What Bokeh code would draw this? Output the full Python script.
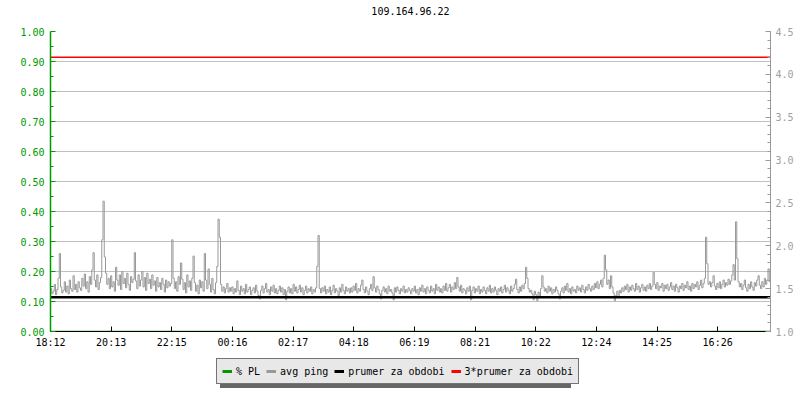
from bokeh.plotting import figure
from bokeh.layouts import column
from bokeh.models import (Range1d, LinearAxis, FixedTicker, PrintfTickFormatter,
                          Legend, LegendItem, Title)
from bokeh.embed import file_html
from bokeh.resources import INLINE

# ---------------- data ----------------
title_text = "109.164.96.22"
time_labels = ["18:12", "20:13", "22:15", "00:16", "02:17", "04:18",
               "06:19", "08:21", "10:22", "12:24", "14:25", "16:26"]
tick_step_min = 121.3          # minutes between time labels
period_min = 1440              # length of the period (minutes)
sample_min = 2.5               # minutes between samples

# average ping (ms), one value every 2.5 minutes
avg_ping = [
    # 18:12 - 19:12
    1.50, 1.44, 1.47, 1.55, 1.43, 1.49, 1.62, 1.91, 1.52, 1.45, 1.48, 1.58,
    1.46, 1.53, 1.44, 1.60, 1.50, 1.47, 1.65, 1.49, 1.55, 1.46, 1.58, 1.51,
    # 19:12 - 20:12
    1.48, 1.62, 1.53, 1.67, 1.50, 1.58, 1.46, 1.64, 1.55, 1.72, 1.92, 1.60,
    1.52, 1.66, 1.49, 1.57, 1.63, 2.07, 2.52, 1.87, 1.68, 1.55, 1.62, 1.50,
    # 20:12 - 21:12
    1.65, 1.52, 1.58, 1.47, 1.75, 1.60, 1.54, 1.66, 1.49, 1.70, 1.56, 1.62,
    1.51, 1.68, 1.55, 1.48, 1.64, 1.57, 1.61, 1.92, 1.59, 1.50, 1.66, 1.53,
    # 21:12 - 22:12
    1.60, 1.70, 1.52, 1.63, 1.48, 1.68, 1.56, 1.61, 1.50, 1.66, 1.54, 1.59,
    1.47, 1.63, 1.52, 1.57, 1.49, 1.62, 1.55, 1.46, 1.60, 1.51, 1.58, 1.53,
    # 22:12 - 23:12
    1.56, 2.07, 1.62, 1.50, 1.58, 1.47, 1.64, 1.55, 1.80, 1.61, 1.49, 1.57,
    1.45, 1.66, 1.52, 1.59, 1.48, 1.62, 1.88, 1.57, 1.47, 1.54, 1.44, 1.60,
    # 23:12 - 00:12
    1.51, 1.58, 1.47, 1.91, 1.60, 1.50, 1.73, 1.55, 1.46, 1.62, 1.49, 1.44,
    1.57, 1.76, 2.31, 2.10, 1.55, 1.47, 1.52, 1.45, 1.50, 1.56, 1.46, 1.51,
    # 00:12 - 01:12
    1.47, 1.52, 1.44, 1.50, 1.46, 1.59, 1.48, 1.43, 1.53, 1.47, 1.50, 1.44,
    1.55, 1.46, 1.49, 1.52, 1.43, 1.48, 1.51, 1.45, 1.54, 1.47, 1.42, 1.38,
    # 01:12 - 02:12
    1.48, 1.53, 1.45, 1.50, 1.56, 1.46, 1.49, 1.43, 1.52, 1.47, 1.54, 1.45,
    1.50, 1.44, 1.48, 1.53, 1.46, 1.51, 1.43, 1.49, 1.37, 1.47, 1.52, 1.45,
    # 02:12 - 03:12
    1.50, 1.44, 1.55, 1.47, 1.52, 1.45, 1.49, 1.54, 1.46, 1.51, 1.43, 1.48,
    1.53, 1.45, 1.50, 1.47, 1.52, 1.44, 1.49, 1.46, 1.51, 1.76, 2.12, 1.50,
    # 03:12 - 04:12
    1.45, 1.51, 1.47, 1.53, 1.44, 1.49, 1.46, 1.52, 1.43, 1.48, 1.54, 1.45,
    1.50, 1.47, 1.42, 1.51, 1.46, 1.55, 1.48, 1.44, 1.52, 1.47, 1.50, 1.45,
    # 04:12 - 05:12
    1.51, 1.46, 1.53, 1.48, 1.56, 1.45, 1.50, 1.47, 1.54, 1.60, 1.49, 1.45,
    1.52, 1.47, 1.43, 1.50, 1.55, 1.48, 1.64, 1.51, 1.46, 1.53, 1.49, 1.44,
    # 05:12 - 06:12
    1.38, 1.48, 1.52, 1.46, 1.50, 1.44, 1.53, 1.47, 1.49, 1.45, 1.37, 1.51,
    1.46, 1.52, 1.48, 1.44, 1.50, 1.47, 1.53, 1.45, 1.49, 1.46, 1.51, 1.48,
    # 06:12 - 07:12
    1.44, 1.50, 1.47, 1.53, 1.45, 1.49, 1.43, 1.51, 1.47, 1.54, 1.46, 1.50,
    1.44, 1.52, 1.48, 1.45, 1.53, 1.47, 1.50, 1.44, 1.55, 1.48, 1.52, 1.46,
    # 07:12 - 08:12
    1.50, 1.45, 1.53, 1.48, 1.56, 1.47, 1.51, 1.55, 1.46, 1.52, 1.49, 1.57,
    1.50, 1.63, 1.52, 1.47, 1.54, 1.45, 1.50, 1.48, 1.44, 1.51, 1.47, 1.53,
    # 08:12 - 09:12
    1.37, 1.48, 1.52, 1.45, 1.50, 1.47, 1.53, 1.44, 1.49, 1.46, 1.52, 1.48,
    1.44, 1.51, 1.47, 1.54, 1.45, 1.50, 1.46, 1.52, 1.48, 1.43, 1.50, 1.47,
    # 09:12 - 10:12
    1.52, 1.45, 1.49, 1.54, 1.46, 1.51, 1.48, 1.44, 1.53, 1.47, 1.50, 1.55,
    1.61, 1.49, 1.45, 1.52, 1.47, 1.54, 1.50, 1.56, 1.75, 1.62, 1.50, 1.46,
    # 10:12 - 11:12
    1.48, 1.44, 1.37, 1.47, 1.43, 1.36, 1.46, 1.41, 1.50, 1.65, 1.52, 1.47,
    1.50, 1.45, 1.53, 1.47, 1.51, 1.44, 1.49, 1.46, 1.52, 1.48, 1.44, 1.38,
    # 11:12 - 12:12
    1.47, 1.51, 1.45, 1.53, 1.48, 1.56, 1.46, 1.50, 1.44, 1.52, 1.47, 1.49,
    1.45, 1.53, 1.48, 1.51, 1.46, 1.54, 1.49, 1.45, 1.52, 1.48, 1.55, 1.50,
    # 12:12 - 13:12
    1.47, 1.53, 1.49, 1.56, 1.51, 1.58, 1.50, 1.55, 1.60, 1.52, 1.62, 1.89,
    1.72, 1.55, 1.60, 1.50, 1.65, 1.52, 1.45, 1.36, 1.42, 1.47, 1.40, 1.48,
    # 13:12 - 14:12
    1.45, 1.51, 1.47, 1.53, 1.49, 1.55, 1.46, 1.52, 1.48, 1.54, 1.50, 1.47,
    1.56, 1.49, 1.53, 1.46, 1.51, 1.55, 1.48, 1.52, 1.47, 1.54, 1.50, 1.56,
    # 14:12 - 15:12
    1.49, 1.53, 1.69, 1.55, 1.50, 1.57, 1.48, 1.53, 1.51, 1.56, 1.47, 1.54,
    1.50, 1.55, 1.48, 1.52, 1.57, 1.49, 1.53, 1.47, 1.55, 1.51, 1.46, 1.53,
    # 15:12 - 16:12
    1.50, 1.56, 1.48, 1.54, 1.51, 1.58, 1.49, 1.53, 1.47, 1.56, 1.50, 1.55,
    1.52, 1.58, 1.49, 1.54, 1.60, 1.51, 1.56, 1.62, 2.10, 1.79, 1.55, 1.58,
    # 16:12 - 17:12
    1.52, 1.57, 1.65, 1.53, 1.49, 1.56, 1.51, 1.58, 1.50, 1.55, 1.60, 1.52,
    1.57, 1.54, 1.61, 1.55, 1.59, 1.66, 1.78, 1.60, 2.28, 1.85, 1.58, 1.52,
    # 17:12 - 18:12
    1.56, 1.49, 1.54, 1.60, 1.51, 1.47, 1.55, 1.50, 1.58, 1.52, 1.48, 1.57,
    1.53, 1.60, 1.65, 1.54, 1.50, 1.58, 1.52, 1.62, 1.55, 1.60, 1.73, 1.58,
    1.52,
]
packet_loss = [0.0] * len(avg_ping)     # % PL stayed at zero
mean_ping = 1.40                        # prumer za obdobi
triple_mean_ping = 4.20                 # 3*prumer za obdobi

left_ticks = [0.0, 0.1, 0.2, 0.3, 0.4, 0.5, 0.6, 0.7, 0.8, 0.9, 1.0]
left_minor = [0.05, 0.15, 0.25, 0.35, 0.45, 0.55, 0.65, 0.75, 0.85, 0.95]
right_ticks = [1.0, 1.5, 2.0, 2.5, 3.0, 3.5, 4.0, 4.5]
right_minor = [round(1.0 + 0.1 * k, 1) for k in range(36)]

legend_labels = ["% PL", "avg ping", "prumer za obdobi", "3*prumer za obdobi"]

# ---------------- style ----------------
FONT = "DejaVu Sans Mono"
GREEN = "#009900"
GRAY = "#999999"

minutes = [sample_min * i for i in range(len(avg_ping))]
x_ticks = [round(i * tick_step_min, 3) for i in range(len(time_labels))]

p = figure(width=800, height=352, output_backend="svg", toolbar_location=None,
           x_range=Range1d(0, period_min), y_range=Range1d(0, 1),
           min_border_left=50, min_border_right=30, min_border_top=31,
           min_border_bottom=21)
p.extra_y_ranges = {"ping": Range1d(1.0, 4.5)}
p.outline_line_color = None
p.background_fill_color = "white"
p.border_fill_color = "white"

# a thin empty spacer title next to the frame, then the real title above it
p.add_layout(Title(text=" ", text_font_size="1px", standoff=6), "above")
p.add_layout(Title(text=title_text, align="center", text_font=FONT,
                   text_font_size="10px", text_font_style="normal",
                   text_color="black", vertical_align="top", standoff=12),
             "above")

# x axis
xa = p.xaxis[0]
xa.ticker = FixedTicker(ticks=x_ticks, minor_ticks=[])
xa.major_label_overrides = {t: lab for t, lab in zip(x_ticks, time_labels)}
xa.axis_line_color = "black"
xa.major_tick_line_color = "black"
xa.major_tick_in = 5
xa.major_tick_out = 0
xa.minor_tick_line_color = None
xa.major_label_standoff = 5
xa.major_label_text_font = FONT
xa.major_label_text_font_size = "10px"
xa.major_label_text_color = "black"

# left axis
left_ticker = FixedTicker(ticks=left_ticks, minor_ticks=left_minor)
ya = p.yaxis[0]
ya.ticker = left_ticker
ya.formatter = PrintfTickFormatter(format="%.2f")
ya.axis_line_color = GREEN
ya.axis_line_width = 1.5
ya.major_tick_line_color = GREEN
ya.minor_tick_line_color = GREEN
ya.major_tick_in = 5
ya.major_tick_out = 0
ya.minor_tick_in = 3
ya.minor_tick_out = 0
ya.major_label_standoff = 6
ya.major_label_text_font = FONT
ya.major_label_text_font_size = "10px"
ya.major_label_text_color = GREEN

# right axis
ra = LinearAxis(y_range_name="ping",
                ticker=FixedTicker(ticks=right_ticks, minor_ticks=right_minor),
                formatter=PrintfTickFormatter(format="%.1f"))
ra.axis_line_color = GRAY
ra.major_tick_line_color = GRAY
ra.minor_tick_line_color = GRAY
ra.major_tick_in = 5
ra.major_tick_out = 0
ra.minor_tick_in = 3
ra.minor_tick_out = 0
ra.major_label_standoff = 5
ra.major_label_text_font = FONT
ra.major_label_text_font_size = "10px"
ra.major_label_text_color = "#a0a0a0"
p.add_layout(ra, "right")

p.ygrid.ticker = left_ticker
p.ygrid.grid_line_color = "#c0c0c0"
p.xgrid.visible = False

# data lines
p.line(minutes, packet_loss, line_color=GREEN, line_width=1.5)
p.step(minutes, avg_ping, line_color=GRAY, line_width=1, mode="after",
       y_range_name="ping")
p.line([0, period_min], [mean_ping, mean_ping], line_color="black",
       line_width=2.5, y_range_name="ping")
p.line([0, period_min], [triple_mean_ping, triple_mean_ping], line_color="red",
       line_width=1.5, y_range_name="ping")

# ---------------- legend strip (separate figure below) ----------------
lg = figure(width=800, height=48, output_backend="svg", toolbar_location=None,
            x_range=Range1d(0, 1), y_range=Range1d(0, 1),
            x_axis_location=None, y_axis_location=None, min_border=0)
lg.outline_line_color = None
lg.xgrid.visible = False
lg.ygrid.visible = False
lg.background_fill_color = "white"
lg.border_fill_color = "white"

# swatch renderers: one point outside the visible range, only used by the legend
swatch_colors = [GREEN, GRAY, "black", "red"]
swatches = [lg.line([-1], [-1], line_color=c, line_width=3) for c in swatch_colors]


def make_legend(fill, border, loc, text_alpha):
    items = [LegendItem(label=lab, renderers=[r])
             for lab, r in zip(legend_labels, swatches)]
    return Legend(items=items, location=loc, orientation="horizontal",
                  background_fill_color=fill, background_fill_alpha=1,
                  border_line_color=border, border_line_width=1,
                  label_text_font=FONT, label_text_font_size="10px",
                  label_text_color="black", label_text_alpha=text_alpha,
                  label_height=14, glyph_height=14,
                  glyph_width=10, label_standoff=4, spacing=6, padding=5,
                  margin=0)


# shadow first (drawn underneath), then the legend box itself
lg.add_layout(make_legend("#666666", None, (170, 12), 0), "center")
lg.add_layout(make_legend("#e8e8e8", "black", (166, 16), 1), "center")

layout = column(p, lg, spacing=0)
open("out.html", "w").write(file_html(layout, INLINE))
